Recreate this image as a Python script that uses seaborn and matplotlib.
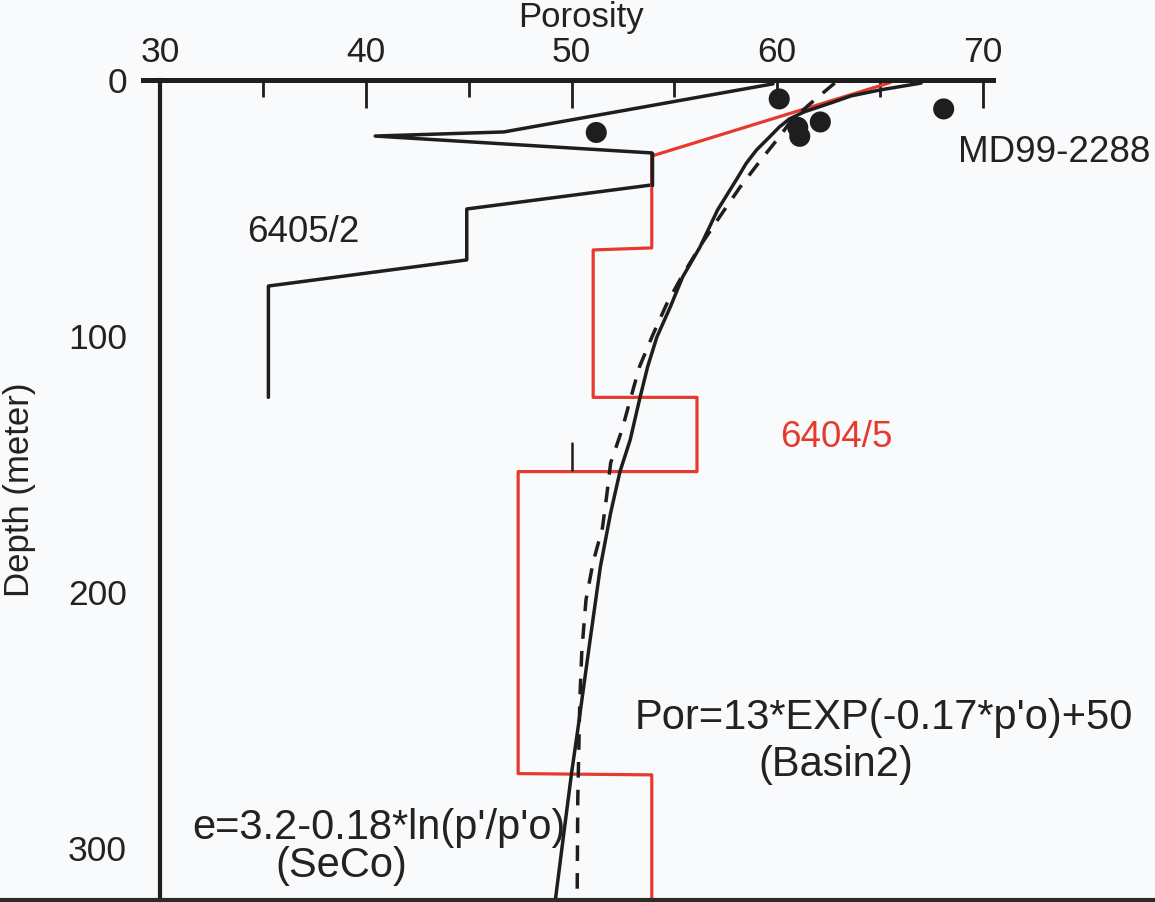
import matplotlib
matplotlib.use("Agg")
import matplotlib.pyplot as plt
from matplotlib.lines import Line2D
import seaborn as sns

# Well 6405/2 porosity log (porosity %, depth m)
well_6405_2_por = [59.8, 46.7, 40.45, 53.9, 53.9, 44.9, 44.9, 35.25, 35.25]
well_6405_2_depth = [1.5, 20.3, 21.9, 28.5, 41.0, 50.4, 70.3, 80.5, 124.0]

# Well 6404/5 porosity log
well_6404_5_por = [65.5, 53.9, 53.9, 51.05, 51.05, 56.1, 56.1, 47.4, 47.4, 53.9, 53.9]
well_6404_5_depth = [1.0, 29.7, 65.6, 66.4, 124.0, 124.0, 153.0, 153.0, 271.0, 271.5, 330.0]

# Core MD99-2288 measurements
core_por = [51.2, 60.1, 61.0, 61.1, 62.1, 68.1]
core_depth = [20.5, 7.4, 18.5, 22.0, 16.4, 11.3]

# SeCo compaction trend (solid)
seco_por = [67.0, 65.0, 63.6, 62.6, 61.3, 60.6, 60.1, 59.6, 59.0, 58.5, 58.05, 57.1, 56.25,
            55.4, 54.8, 54.15, 53.7, 53.3, 52.85, 52.35, 51.9, 51.4, 50.9, 50.3, 50.0, 49.6, 49.2]
seco_depth = [1.2, 3.9, 6.2, 9.0, 12.5, 15.2, 18.4, 22.5, 27.3, 32.5, 38.5, 50.8, 65.2,
              77.0, 88.7, 100.4, 112.0, 125.0, 140.6, 153.1, 169.1, 190.2, 218.8, 253.9,
              270.7, 295.7, 321.0]

# Basin2 compaction trend (dashed)
basin2_por = [62.8, 62.4, 61.5, 60.6, 60.1, 59.2, 58.2, 57.2, 56.35, 55.4, 54.65, 53.95,
              53.3, 52.85, 52.45, 51.9, 51.7, 51.5, 51.05, 50.7, 50.5, 50.4, 50.3, 50.27]
basin2_depth = [1.2, 3.9, 10.0, 16.8, 22.3, 31.3, 41.8, 53.5, 63.7, 76.2, 87.1, 99.6,
                112.1, 125.0, 136.7, 149.6, 162.9, 175.0, 188.3, 203.1, 222.7, 242.2,
                281.3, 321.0]

x_major = [30, 40, 50, 60, 70]
x_minor = [35, 45, 55, 65]
y_major = [0, 100, 200, 300]
y_minor = [50, 150, 250]

RED = "#e53a2c"
INK = "#1e1e1e"
TXT = "#222222"
BG = "#f9fafc"

sns.set_theme(style="white")
plt.rcParams["font.family"] = ["Liberation Sans", "DejaVu Sans"]

W, H = 1155, 902
fig = plt.figure(figsize=(W / 100, H / 100), dpi=100, facecolor=BG)
ax = fig.add_axes([143 / W, 1 - 899 / H, (993 - 143) / W, (899 - 80) / H], facecolor=BG)

sns.lineplot(x=well_6405_2_por, y=well_6405_2_depth, sort=False, estimator=None,
             color=INK, lw=2.5, ax=ax)
sns.lineplot(x=well_6404_5_por, y=well_6404_5_depth, sort=False, estimator=None,
             color=RED, lw=2.3, ax=ax)
sns.lineplot(x=well_6405_2_por[3:5], y=well_6405_2_depth[3:5], sort=False, estimator=None,
             color=INK, lw=2.5, ax=ax)
sns.lineplot(x=seco_por, y=seco_depth, sort=False, estimator=None,
             color=INK, lw=2.5, ax=ax)
sns.lineplot(x=basin2_por, y=basin2_depth, sort=False, estimator=None,
             color=INK, lw=2.5, linestyle=(0, (4.5, 3.5)), ax=ax)
sns.scatterplot(x=core_por, y=core_depth, color=INK, s=230, edgecolor="none", ax=ax, zorder=5)

# short mark at 50 %
ax.plot([50, 50], [142, 152.5], color=INK, lw=1.8)

ax.set_xlim(29.15, 70.5)
ax.set_ylim(320, 0)

ax.xaxis.tick_top()
ax.xaxis.set_label_position("top")
ax.set_xticks(x_major)
ax.set_xticks(x_minor, minor=True)
ax.set_yticks(y_major)
ax.set_yticks(y_minor, minor=True)

ax.spines["left"].set_position(("data", 30))
ax.spines["right"].set_visible(False)
ax.spines["bottom"].set_visible(False)
ax.spines["top"].set_linewidth(3.6)
ax.spines["left"].set_linewidth(3.0)
for s in ("top", "left"):
    ax.spines[s].set_color(INK)

ax.tick_params(axis="x", which="major", direction="in", length=20, width=2.0,
               color=INK, pad=8, labelsize=25.5, labelcolor=TXT)
ax.tick_params(axis="x", which="minor", direction="in", length=12, width=2.0, color=INK)
ax.tick_params(axis="y", which="major", direction="out", length=20, width=2.2,
               color=INK, pad=4, labelsize=25.5, labelcolor=TXT)
ax.tick_params(axis="y", which="minor", direction="out", length=7, width=1.5,
               color="#e6dede")

ax.set_xlabel("Porosity", fontsize=25, color=TXT)
ax.xaxis.set_label_coords((581 - 143) / 850, 1 + (80 - 18) / 819)
ax.xaxis.label.set_va("center")
ax.set_ylabel("Depth (meter)", fontsize=25, color=TXT)
ax.yaxis.set_label_coords((20 - 143) / 850, (899 - 490) / 819)
ax.yaxis.label.set_va("center")

ax.text(34.23, 59.4, "6405/2", ha="left", va="center", fontsize=26.5, color=TXT)
ax.text(68.8, 28.5, "MD99-2288", ha="left", va="center", clip_on=False,
        fontsize=26.5, color=TXT)
ax.text(60.14, 139.5, "6404/5", ha="left", va="center", fontsize=26.5, color=RED)
ax.text(53.09, 249.2, "Por=13*EXP(-0.17*p'o)+50", ha="left", va="center",
        fontsize=30, color=TXT)
ax.text(62.86, 267.6, "(Basin2)", ha="center", va="center", fontsize=30, color=TXT)
ax.text(31.56, 292.2, "e=3.2-0.18*ln(p'/p'o)", ha="left", va="center",
        fontsize=30, color=TXT)
ax.text(38.8, 307.0, "(SeCo)", ha="center", va="center", fontsize=30, color=TXT)

fig.add_artist(Line2D([0, 1], [1 - 899.5 / H, 1 - 899.5 / H], transform=fig.transFigure,
                      color="#2b2b2b", lw=3))

fig.savefig("out.png", dpi=100, facecolor=BG)
